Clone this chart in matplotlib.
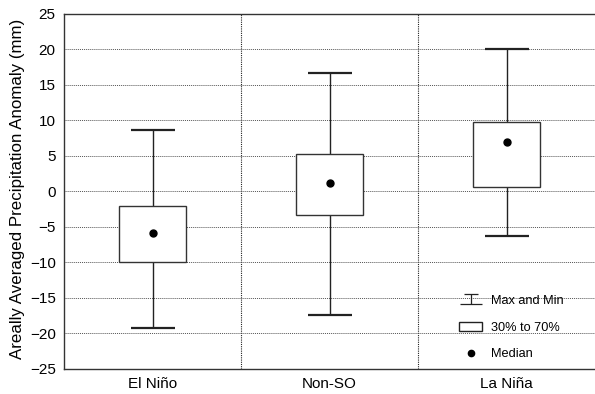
import numpy as np
import matplotlib
matplotlib.use("Agg")
import matplotlib.pyplot as plt
from matplotlib.patches import Patch
from matplotlib.lines import Line2D
from matplotlib.path import Path

plt.rcParams['font.family'] = ['Liberation Sans', 'DejaVu Sans']

# ---------------------------------------------------------
# DATA
# ---------------------------------------------------------
categories = ["El Niño", "Non-SO", "La Niña"]
val_max = [8.6, 16.7, 20.0]
val_min = [-19.2, -17.4, -6.3]
p70 = [-2.0, 5.3, 9.8]
p30 = [-10.0, -3.3, 0.6]
median = [-5.8, 1.2, 6.9]

y_ticks = np.arange(-25, 26, 5)

# ---------------------------------------------------------
# PLOT
# ---------------------------------------------------------
fig = plt.figure(figsize=(5.95, 3.94), dpi=100)
ax = fig.add_axes([0.1076, 0.0635, 0.8924, 0.901])

x = np.arange(1, len(categories) + 1)
vmax = np.array(val_max)
vmin = np.array(val_min)
mid = (vmax + vmin) / 2
half = (vmax - vmin) / 2

ax.errorbar(x, mid, yerr=half, fmt="none", ecolor="#222222",
            elinewidth=1.0, capsize=15.5, capthick=1.6, zorder=2)
ax.bar(x, np.array(p70) - np.array(p30), bottom=p30, width=0.38,
       facecolor="white", edgecolor="#333333", linewidth=1.0, zorder=3)
ax.plot(x, median, "o", color="black", ms=5, zorder=4)

ax.set_xlim(0.5, 3.5)
ax.set_ylim(-25, 25)
ax.set_yticks(y_ticks)
ax.set_xticks(x)
ax.set_xticklabels(categories, fontsize=11)
ax.tick_params(axis="y", labelsize=11, length=0, pad=6)
ax.tick_params(axis="x", length=0, pad=6)
ax.set_xticks([1.5, 2.5], minor=True)
ax.tick_params(axis="x", which="minor", length=0)

ax.grid(axis="y", which="major", linestyle=(0, (1, 1)), color="#555555", lw=0.7)
ax.grid(axis="x", which="minor", linestyle=(0, (1, 1)), color="#222222", lw=0.8)
ax.set_axisbelow(True)

ax.set_ylabel("Areally Averaged Precipitation Anomaly (mm)", fontsize=12.2)
ax.yaxis.set_label_coords(-0.0734, 0.508)

for side in ["left", "bottom", "top"]:
    ax.spines[side].set_color("#333333")
    ax.spines[side].set_linewidth(1.0)
ax.spines["right"].set_visible(False)

# legend proxies
cap_path = Path([(-0.65, 0.45), (0.65, 0.45), (0, 0.45), (0, -0.45), (-1, -0.45), (1, -0.45)],
                [Path.MOVETO, Path.LINETO, Path.MOVETO, Path.LINETO, Path.MOVETO, Path.LINETO])
h_cap = Line2D([], [], marker=cap_path, linestyle="none", markersize=16,
               markeredgecolor="#222222", markerfacecolor="none", markeredgewidth=0.9)
h_box = Patch(facecolor="white", edgecolor="#222222", linewidth=1.0)
h_med = Line2D([], [], marker="o", linestyle="none", color="black", markersize=4.5)

leg = ax.legend([h_cap, h_box, h_med], ["Max and Min", "30% to 70%", "Median"],
                loc="lower right", bbox_to_anchor=(0.962, -0.008), frameon=False,
                fontsize=9.2, handlelength=1.8, handletextpad=0.65, labelspacing=1.15)

fig.savefig("out.png", dpi=100)
